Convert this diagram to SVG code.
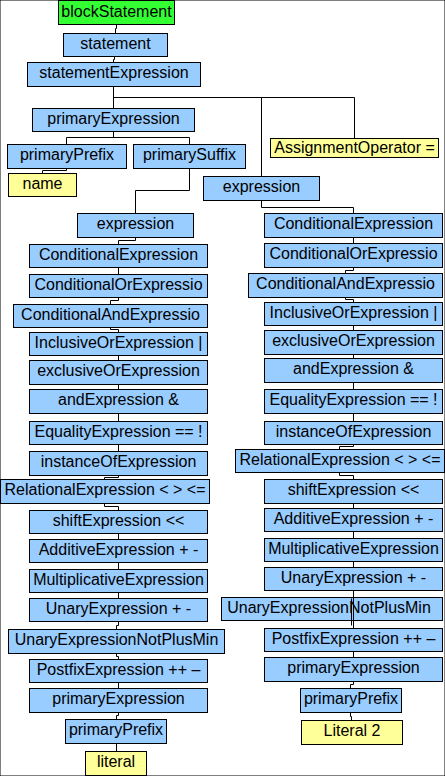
<svg xmlns="http://www.w3.org/2000/svg" width="445" height="776" viewBox="0 0 445 776">
<style>
rect{stroke:#000;stroke-width:1}
.b{fill:#99ccff}
.g{fill:#33ff33}
.y{fill:#ffff99}
text{font-family:"Liberation Sans",Arial,sans-serif;font-size:16px;fill:#000;text-anchor:middle}
.c path{fill:none;stroke:#000;stroke-width:1}
</style>
<rect x="0" y="0" width="445" height="776" fill="#fff" stroke="none"/>
<g id="nodes">
<g id="blockStatement"><rect class="g" x="58.5" y="0.5" width="116" height="24"/><text x="116.5" y="17">blockStatement</text></g>
<g id="statement"><rect class="b" x="63.5" y="33.5" width="104" height="23"/><text x="115.5" y="49">statement</text></g>
<g id="statementExpression"><rect class="b" x="27.5" y="62.5" width="173" height="24"/><text x="114" y="78">statementExpression</text></g>
<g id="primaryExpression1"><rect class="b" x="32.5" y="108.5" width="162" height="23"/><text x="113.5" y="124">primaryExpression</text></g>
<g id="primaryPrefix1"><rect class="b" x="7.5" y="144.5" width="119" height="24"/><text x="67" y="160">primaryPrefix</text></g>
<g id="primarySuffix"><rect class="b" x="133.5" y="144.5" width="112" height="24"/><text x="189.5" y="160">primarySuffix</text></g>
<g id="assignmentOperator"><rect class="y" x="270.5" y="138.5" width="168" height="19"/><text x="354.5" y="153">AssignmentOperator =</text></g>
<g id="name"><rect class="y" x="8.5" y="173.5" width="68" height="23"/><text x="42.5" y="189">name</text></g>
<g id="expressionR"><rect class="b" x="203.5" y="176.5" width="116" height="24"/><text x="261.5" y="192">expression</text></g>
<g id="expressionL"><rect class="b" x="77.5" y="213.5" width="116" height="24"/><text x="135.5" y="229">expression</text></g>

<g id="L_conditional"><rect class="b" x="29.5" y="244.5" width="178" height="23"/><text x="118.5" y="260">ConditionalExpression</text></g>
<g id="L_condOr"><rect class="b" x="29.5" y="274.5" width="178" height="23"/><text x="118.5" y="290">ConditionalOrExpressio</text></g>
<g id="L_condAnd"><rect class="b" x="13.5" y="304.5" width="194" height="23"/><text x="110.5" y="320">ConditionalAndExpressio</text></g>
<g id="L_inclusiveOr"><rect class="b" x="29.5" y="332.5" width="178" height="23"/><text x="118.5" y="348">InclusiveOrExpression |</text></g>
<g id="L_exclusiveOr"><rect class="b" x="29.5" y="360.5" width="178" height="24"/><text x="118.5" y="376">exclusiveOrExpression</text></g>
<g id="L_and"><rect class="b" x="29.5" y="389.5" width="178" height="24"/><text x="118.5" y="405">andExpression &amp;</text></g>
<g id="L_equality"><rect class="b" x="29.5" y="421.5" width="178" height="23"/><text x="118.5" y="437">EqualityExpression == !</text></g>
<g id="L_instanceOf"><rect class="b" x="29.5" y="451.5" width="178" height="24"/><text x="118.5" y="467">instanceOfExpression</text></g>
<g id="L_relational"><rect class="b" x="0.5" y="479.5" width="209" height="24"/><text x="105" y="495">RelationalExpression &lt; &gt; &lt;=</text></g>
<g id="L_shift"><rect class="b" x="29.5" y="510.5" width="178" height="23"/><text x="118.5" y="526">shiftExpression &lt;&lt;</text></g>
<g id="L_additive"><rect class="b" x="29.5" y="539.5" width="178" height="23"/><text x="118.5" y="555">AdditiveExpression + -</text></g>
<g id="L_multiplicative"><rect class="b" x="29.5" y="569.5" width="178" height="23"/><text x="118.5" y="585">MultiplicativeExpression</text></g>
<g id="L_unary"><rect class="b" x="29.5" y="598.5" width="178" height="23"/><text x="118.5" y="614">UnaryExpression + -</text></g>
<g id="L_unaryNot"><rect class="b" x="8.5" y="629.5" width="216" height="24"/><text x="116.5" y="645">UnaryExpressionNotPlusMin</text></g>
<g id="L_postfix"><rect class="b" x="29.5" y="659.5" width="178" height="23"/><text x="118.5" y="675">PostfixExpression ++ –</text></g>
<g id="L_primaryExpression"><rect class="b" x="29.5" y="688.5" width="178" height="24"/><text x="118.5" y="704">primaryExpression</text></g>
<g id="L_primaryPrefix"><rect class="b" x="65.5" y="719.5" width="101" height="24"/><text x="116" y="735">primaryPrefix</text></g>
<g id="L_literal"><rect class="y" x="85.5" y="751.5" width="61" height="24"/><text x="116" y="767">literal</text></g>

<g id="R_conditional"><rect class="b" x="264.5" y="213.5" width="178" height="24"/><text x="353.5" y="229">ConditionalExpression</text></g>
<g id="R_condOr"><rect class="b" x="264.5" y="243.5" width="178" height="24"/><text x="353.5" y="259">ConditionalOrExpressio</text></g>
<g id="R_condAnd"><rect class="b" x="248.5" y="273.5" width="194" height="24"/><text x="345.5" y="289">ConditionalAndExpressio</text></g>
<g id="R_inclusiveOr"><rect class="b" x="264.5" y="302.5" width="178" height="23"/><text x="353.5" y="318">InclusiveOrExpression |</text></g>
<g id="R_exclusiveOr"><rect class="b" x="264.5" y="330.5" width="178" height="24"/><text x="353.5" y="346">exclusiveOrExpression</text></g>
<g id="R_and"><rect class="b" x="264.5" y="358.5" width="178" height="24"/><text x="353.5" y="374">andExpression &amp;</text></g>
<g id="R_equality"><rect class="b" x="264.5" y="389.5" width="178" height="24"/><text x="353.5" y="405">EqualityExpression == !</text></g>
<g id="R_instanceOf"><rect class="b" x="264.5" y="421.5" width="178" height="23"/><text x="353.5" y="437">instanceOfExpression</text></g>
<g id="R_relational"><rect class="b" x="235.5" y="449.5" width="209" height="23"/><text x="340" y="465">RelationalExpression &lt; &gt; &lt;=</text></g>
<g id="R_shift"><rect class="b" x="264.5" y="479.5" width="178" height="24"/><text x="353.5" y="495">shiftExpression &lt;&lt;</text></g>
<g id="R_additive"><rect class="b" x="264.5" y="508.5" width="178" height="23"/><text x="353.5" y="524">AdditiveExpression + -</text></g>
<g id="R_multiplicative"><rect class="b" x="264.5" y="538.5" width="178" height="23"/><text x="353.5" y="554">MultiplicativeExpression</text></g>
<g id="R_unary"><rect class="b" x="264.5" y="567.5" width="178" height="23"/><text x="353.5" y="583">UnaryExpression + -</text></g>
<g id="R_unaryNot"><rect class="b" x="221.5" y="597.5" width="221" height="23"/><text x="329" y="613">UnaryExpressionNotPlusMin</text></g>
<g id="R_postfix"><rect class="b" x="264.5" y="628.5" width="178" height="23"/><text x="353.5" y="644">PostfixExpression ++ –</text></g>
<g id="R_primaryExpression"><rect class="b" x="264.5" y="657.5" width="178" height="24"/><text x="353.5" y="673">primaryExpression</text></g>
<g id="R_primaryPrefix"><rect class="b" x="300.5" y="688.5" width="101" height="24"/><text x="351" y="704">primaryPrefix</text></g>
<g id="R_literal"><rect class="y" x="301.5" y="720.5" width="101" height="24"/><text x="352" y="736">Literal 2</text></g>
</g>

<g id="connectors" class="c">
<path d="M116.5,24.5V28.5H115.5V33.5"/>
<path d="M114.5,56.5V59.5H113.5V62.5"/>
<path d="M113.5,86.5V108.5M113.5,97.5H354.5V138.5M261.5,97.5V176.5"/>
<path d="M113.5,131.5V137.5M66.5,137.5H189.5M66.5,137.5V144.5M189.5,137.5V144.5"/>
<path d="M66.5,168.5V170.5H42.5V173.5"/>
<path d="M189.5,168.5V190.5H135.5V213.5"/>
<path d="M261.5,200.5V207.5H353.5V213.5"/>
<path d="M135.5,237.5V240.5H118.5V244.5"/>
<path d="M118.5,267.5V274.5"/>
<path d="M118.5,297.5V300.5H110.5V304.5"/>
<path d="M110.5,327.5V329.5H118.5V332.5"/>
<path d="M118.5,355.5V360.5"/>
<path d="M118.5,384.5V389.5"/>
<path d="M118.5,413.5V421.5"/>
<path d="M118.5,444.5V451.5"/>
<path d="M118.5,475.5V477.5H104.5V479.5"/>
<path d="M104.5,503.5V506.5H118.5V510.5"/>
<path d="M118.5,533.5V539.5"/>
<path d="M118.5,562.5V569.5"/>
<path d="M118.5,592.5V598.5"/>
<path d="M118.5,621.5V625.5H116.5V629.5"/>
<path d="M116.5,653.5V656.5H118.5V659.5"/>
<path d="M118.5,682.5V688.5"/>
<path d="M118.5,712.5V715.5H116.5V719.5"/>
<path d="M116.5,743.5V751.5"/>
<path d="M353.5,237.5V243.5"/>
<path d="M353.5,267.5V270.5H345.5V273.5"/>
<path d="M345.5,297.5V299.5H353.5V302.5"/>
<path d="M353.5,325.5V330.5"/>
<path d="M353.5,354.5V358.5"/>
<path d="M353.5,382.5V389.5"/>
<path d="M353.5,413.5V421.5"/>
<path d="M353.5,444.5V446.5H339.5V449.5"/>
<path d="M339.5,472.5V475.5H353.5V479.5"/>
<path d="M353.5,503.5V508.5"/>
<path d="M353.5,531.5V538.5"/>
<path d="M353.5,561.5V567.5"/>
<path d="M353.5,590.5V628.5M351.5,598.5V625.5"/>
<path d="M353.5,651.5V657.5"/>
<path d="M353.5,681.5V684.5H350.5V688.5"/>
<path d="M350.5,712.5V716.5H351.5V720.5"/>
</g>
</svg>
